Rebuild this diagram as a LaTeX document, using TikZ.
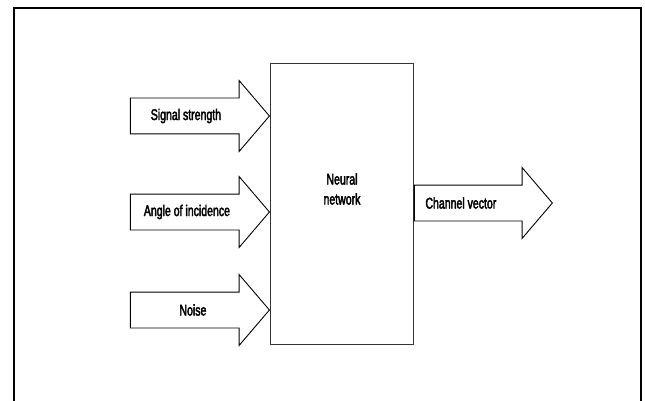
\documentclass[tikz,border=0pt]{standalone}
\usepackage{fontspec}
\setmainfont{Liberation Sans}[FakeStretch=0.68,FakeBold=2.5]
\usetikzlibrary{shapes.arrows}
\usetikzlibrary{positioning}

\begin{document}
\begin{tikzpicture}[x=1pt,y=-1pt,
  every node/.style={font=\fontsize{15.5}{20}\selectfont},
  blockarrow/.style={draw,single arrow,single arrow head extend=17.5pt,
    single arrow tip angle=99,minimum width=70pt,inner xsep=1pt,inner ysep=11pt,
    text height=10pt,text depth=3pt,line width=0.9pt}]
  \useasboundingbox (0,0) rectangle (645,401);
  \draw[line width=2.6pt] (14,401) -- (14,8) -- (641,8) -- (641,401);

  \node[draw,line width=0.9pt,draw=black!80,minimum width=143pt,minimum height=281pt,anchor=north west] (nn) at (270,63){};
  \node[align=center] (nntext) at (342,189){Neural\\network};

  % inputs
  \node[blockarrow,minimum height=139pt,anchor=tip] (sig) at (nn.west |- 0,116){};
  \node[blockarrow,minimum height=139pt,anchor=tip] (ang) at (nn.west |- 0,212){};
  \node[blockarrow,minimum height=139pt,anchor=tip] (noi) at (nn.west |- 0,310){};
  \node (sigtext) at ([xshift=56pt]sig.tail){Signal strength};
  \node (angtext) at ([xshift=57pt]ang.tail){Angle of incidence};
  \node (noitext) at ([xshift=63pt]noi.tail){Noise};

  % output
  \node[blockarrow,minimum height=138pt,anchor=tail] (out) at (nn.east |- 0,203){};
  \node (outtext) at ([xshift=47pt]out.tail){Channel vector};
\end{tikzpicture}
\end{document}
